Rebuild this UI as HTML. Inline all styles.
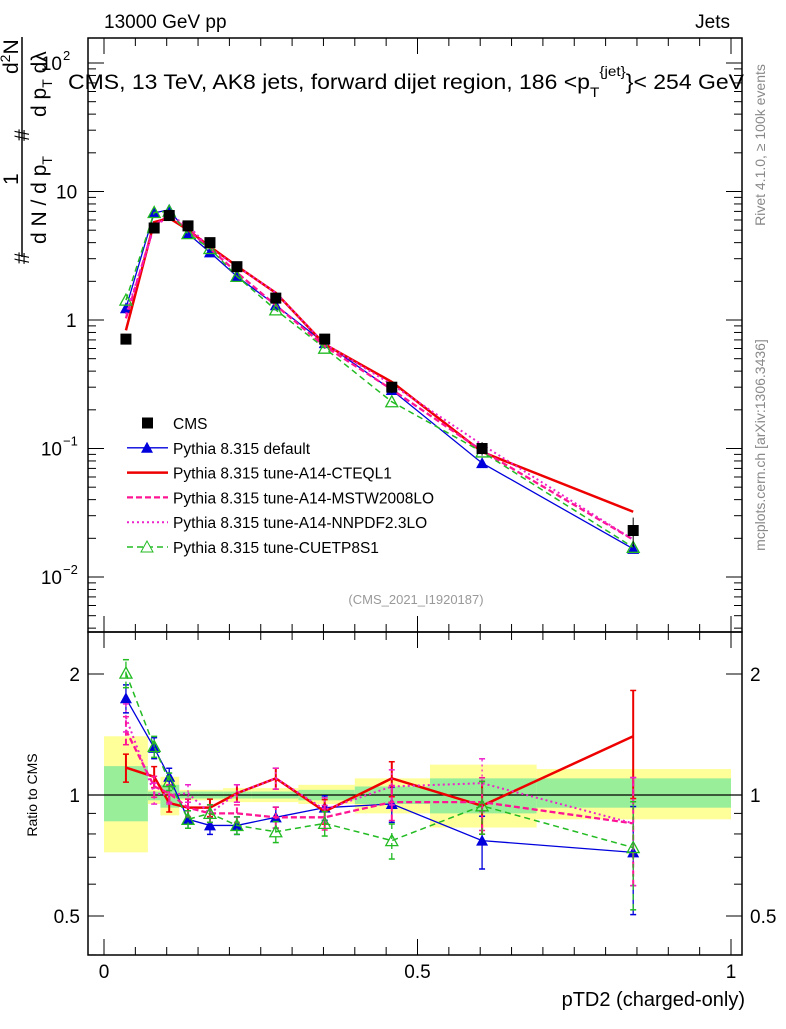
<!DOCTYPE html>
<html><head><meta charset="utf-8"><style>
body{margin:0;background:#fff;font-family:"Liberation Sans",sans-serif}
svg text{font-family:"Liberation Sans",sans-serif}
</style></head><body>
<svg id="c" width="786" height="1024" xmlns="http://www.w3.org/2000/svg"></svg>
<script>
const xVals=[0.035,0.080,0.104,0.134,0.169,0.212,0.274,0.352,0.459,0.603,0.844];
const binEdges=[0,0.07,0.09,0.12,0.15,0.19,0.235,0.31,0.40,0.52,0.69,1.0];
const cmsVals=[0.71,5.2,6.5,5.4,4.0,2.6,1.48,0.71,0.30,0.10,0.023];
const cmsErr=[0.05,0.3,0.3,0.25,0.2,0.12,0.08,0.04,0.03,0.012,0.006];
const yellowLo=[0.72,0.95,0.89,0.97,0.97,0.96,0.96,0.95,0.90,0.83,0.87];
const yellowHi=[1.40,1.03,1.11,1.03,1.03,1.04,1.04,1.06,1.10,1.19,1.16];
const greenLo=[0.86,0.97,0.93,0.98,0.98,0.98,0.98,0.97,0.95,0.90,0.93];
const greenHi=[1.18,1.02,1.06,1.02,1.02,1.02,1.02,1.03,1.05,1.10,1.10];
const rDefault=[1.74,1.31,1.11,0.87,0.84,0.84,0.88,0.93,0.95,0.77,0.72];
const rCTEQ=[1.17,1.11,0.955,0.93,0.93,1.01,1.10,0.91,1.10,0.94,1.40];
const rMSTW=[1.45,1.05,1.01,0.93,0.90,0.90,0.88,0.88,0.96,0.96,0.85];
const rNNPDF=[1.56,1.01,1.0,1.01,0.90,1.01,1.10,0.92,1.05,1.07,0.85];
const rCUETP=[2.01,1.32,1.08,0.87,0.90,0.84,0.81,0.85,0.77,0.94,0.74];
const rErr=[0.08,0.06,0.05,0.05,0.05,0.05,0.06,0.07,0.1,0.15,0.3];
const xTicks=[0,0.5,1];
const NS="http://www.w3.org/2000/svg";
const svg=document.getElementById('c');
const X=v=>104+v*627;
const Ym=v=>320-128.5*Math.log10(v);
const Yr=v=>795-121*Math.log2(v);
const L=88,R=742,T1=38,B1=632,B2=955;
function el(t,a,p){const e=document.createElementNS(NS,t);for(const k in a)e.setAttribute(k,a[k]);(p||svg).appendChild(e);return e;}
function txt(s,x,y,sz,extra,p){const e=el('text',Object.assign({x:x,y:y,'font-size':sz},extra||{}),p);e.textContent=s;return e;}
for(let i=0;i<xVals.length;i++){
 const y=el('rect',{x:X(binEdges[i]),y:Yr(yellowHi[i]),width:X(binEdges[i+1])-X(binEdges[i]),height:Yr(yellowLo[i])-Yr(yellowHi[i]),fill:'#ffff99'});
 
 const g=el('rect',{x:X(binEdges[i]),y:Yr(greenHi[i]),width:X(binEdges[i+1])-X(binEdges[i]),height:Yr(greenLo[i])-Yr(greenHi[i]),fill:'#99ee99'});
 
}
el('line',{x1:L,x2:R,y1:Yr(1),y2:Yr(1),stroke:'#000','stroke-width':1.2});
el('rect',{x:L,y:T1,width:R-L,height:B1-T1,fill:'none',stroke:'#000','stroke-width':1.5});
el('rect',{x:L,y:B1,width:R-L,height:B2-B1,fill:'none',stroke:'#000','stroke-width':1.5});
for(let d=-3;d<=2;d++){for(let m=1;m<10;m++){const v=m*Math.pow(10,d);const y=Ym(v);if(y<T1||y>B1)continue;const len=m==1?16:8;
 el('line',{x1:L,x2:L+len,y1:y,y2:y,stroke:'#000'});el('line',{x1:R,x2:R-len,y1:y,y2:y,stroke:'#000'});}}
const ylab=[[Ym(100),'10','2'],[Ym(10),'10',''],[Ym(1),'1',''],[Ym(0.1),'10','−1'],[Ym(0.01),'10','−2']];
ylab.forEach(a=>{const t=txt(a[1],a[2]?62:(a[1]=='1'?66:56),a[0]+7,19,{'text-anchor':a[2]?'end':'start'});
 if(a[2]){txt(a[2],63,a[0]-3,13);}});
[0.4,0.5,0.6,0.7,0.8,0.9,1,2].forEach(v=>{const y=Yr(v);const len=(v==1||v==2||v==0.5)?16:8;el('line',{x1:L,x2:L+len,y1:y,y2:y,stroke:'#000'});el('line',{x1:R,x2:R-len,y1:y,y2:y,stroke:'#000'});});
[[2,'2'],[1,'1'],[0.5,'0.5']].forEach(a=>{txt(a[1],80,Yr(a[0])+7,19,{'text-anchor':'end'});txt(a[1],750,Yr(a[0])+7,19);});
for(let v=0;v<=1.0001;v+=0.05){const x=X(v);const len=Math.abs(v*2-Math.round(v*2))<1e-6?16:8;
 el('line',{x1:x,x2:x,y1:B2,y2:B2-len,stroke:'#000'});el('line',{x1:x,x2:x,y1:B1,y2:B1-len,stroke:'#000'});el('line',{x1:x,x2:x,y1:T1,y2:T1+len,stroke:'#000'});el('line',{x1:x,x2:x,y1:B1,y2:B1+len,stroke:'#000'});}
xTicks.forEach(v=>{const t=txt(String(v),X(v),978,19,{'text-anchor':'middle'});});
const series=[
 {n:'default',r:rDefault,c:'#0000dd',w:1.3,d:'',m:'tri'},
 {n:'cteql1',r:rCTEQ,c:'#ee0000',w:2.5,d:'',m:'none'},
 {n:'mstw',r:rMSTW,c:'#ff1493',w:2.3,d:'6,3',m:'none'},
 {n:'nnpdf',r:rNNPDF,c:'#ee22cc',w:2,d:'2,3',m:'none'},
 {n:'cuetp8s1',r:rCUETP,c:'#22bb22',w:1.5,d:'6,4',m:'otri'}];
function marker(s,x,y){if(s.m=='tri'){const p=el('polygon',{points:`${x},${y-6} ${x-6},${y+5} ${x+6},${y+5}`,fill:s.c});}
 if(s.m=='otri'){const p=el('polygon',{points:`${x},${y-6} ${x-6},${y+5} ${x+6},${y+5}`,fill:'none',stroke:s.c,'stroke-width':1.3});}}
series.forEach(s=>{
 const main=xVals.map((x,i)=>[X(x),Ym(cmsVals[i]*s.r[i])]);
 const rat=xVals.map((x,i)=>[X(x),Yr(s.r[i])]);
 const p1=el('polyline',{points:main.map(p=>p.join(',')).join(' '),fill:'none',stroke:s.c,'stroke-width':s.w,'stroke-dasharray':s.d});
 
 const p2=el('polyline',{points:rat.map(p=>p.join(',')).join(' '),fill:'none',stroke:s.c,'stroke-width':s.w,'stroke-dasharray':s.d});
 
 xVals.forEach((x,i)=>{const xx=X(x);const lo=Yr(s.r[i]*(1-rErr[i])),hi=Yr(s.r[i]*(1+rErr[i]));
  el('line',{x1:xx,x2:xx,y1:lo,y2:hi,stroke:s.c,'stroke-width':s.w>2?2:1.3,'stroke-dasharray':s.d});
  el('line',{x1:xx-3,x2:xx+3,y1:lo,y2:lo,stroke:s.c,'stroke-width':1.5});el('line',{x1:xx-3,x2:xx+3,y1:hi,y2:hi,stroke:s.c,'stroke-width':1.5});
  marker(s,main[i][0],main[i][1]);marker(s,rat[i][0],rat[i][1]);});
});
xVals.forEach((x,i)=>{const xx=X(x),yy=Ym(cmsVals[i]);
 el('line',{x1:xx,x2:xx,y1:Ym(cmsVals[i]+cmsErr[i]),y2:Ym(cmsVals[i]-cmsErr[i]),stroke:'#000'});
 const r=el('rect',{x:xx-5.5,y:yy-5.5,width:11,height:11,fill:'#000'});});
const leg=[['CMS','#000','','sq',1],['Pythia 8.315 default','#0000dd','','tri',1.3],['Pythia 8.315 tune-A14-CTEQL1','#ee0000','','none',2.5],['Pythia 8.315 tune-A14-MSTW2008LO','#ff1493','6,3','none',2.3],['Pythia 8.315 tune-A14-NNPDF2.3LO','#ee22cc','2,3','none',2],['Pythia 8.315 tune-CUETP8S1','#22bb22','6,4','otri',1.5]];
leg.forEach((l,i)=>{const y=423+i*24.8;const g=el('g',{});
 if(l[3]=='sq')el('rect',{x:142,y:y-5.5,width:11,height:11,fill:'#000'},g);
 else{el('line',{x1:127,x2:168,y1:y,y2:y,stroke:l[1],'stroke-width':l[4],'stroke-dasharray':l[2]},g);
  if(l[3]=='tri')el('polygon',{points:`147,${y-6} 141,${y+5} 153,${y+5}`,fill:l[1]},g);
  if(l[3]=='otri')el('polygon',{points:`147,${y-6} 141,${y+5} 153,${y+5}`,fill:'#fff',stroke:l[1]},g);}
 txt(l[0],173,y+6,15.5,{},g);});
let t;
t=txt('13000 GeV pp',104,28,19);
t=txt('Jets',730,28,19,{'text-anchor':'end'});
t=el('text',{x:68,y:89,'font-size':21,textLength:676,lengthAdjust:'spacingAndGlyphs'});
t.innerHTML='CMS, 13 TeV, AK8 jets, forward dijet region, 186 &lt;p<tspan font-size="14" dy="8">T</tspan><tspan font-size="14" dy="-21">{jet}</tspan><tspan dy="13">}&lt; 254 GeV</tspan>';
t=txt('(CMS_2021_I1920187)',416,604,13,{fill:'#999','text-anchor':'middle'});
t=txt('pTD2 (charged-only)',745,1006,20,{'text-anchor':'end'});
t=txt('Ratio to CMS',37,795,14,{'text-anchor':'middle',transform:'rotate(-90 37 795)'});
t=txt('Rivet 4.1.0, ≥ 100k events',765,145,14,{'text-anchor':'middle',fill:'#888',transform:'rotate(-90 765 145)'});
t=txt('mcplots.cern.ch [arXiv:1306.3436]',765,445,14,{'text-anchor':'middle',fill:'#888',transform:'rotate(-90 765 445)'});
const yt=el('g',{transform:'rotate(-90)'});
yt.innerHTML='<line x1="-257" x2="-37" y1="22" y2="22" stroke="#000" stroke-width="1.5"/>'+
'<text x="-264" y="29" font-size="21">#</text>'+
'<text x="-185" y="18" font-size="21">1</text>'+
'<text x="-244" y="46" font-size="21">d N / d p<tspan font-size="14" dy="6">T</tspan></text>'+
'<text x="-141" y="29" font-size="21">#</text>'+
'<text x="-74" y="18" font-size="21">d<tspan font-size="14" dy="-8">2</tspan><tspan dy="8">N</tspan></text>'+
'<text x="-117" y="46" font-size="21">d p<tspan font-size="14" dy="6">T</tspan><tspan dy="-6"> dλ</tspan></text>';
</script>
</body></html>
